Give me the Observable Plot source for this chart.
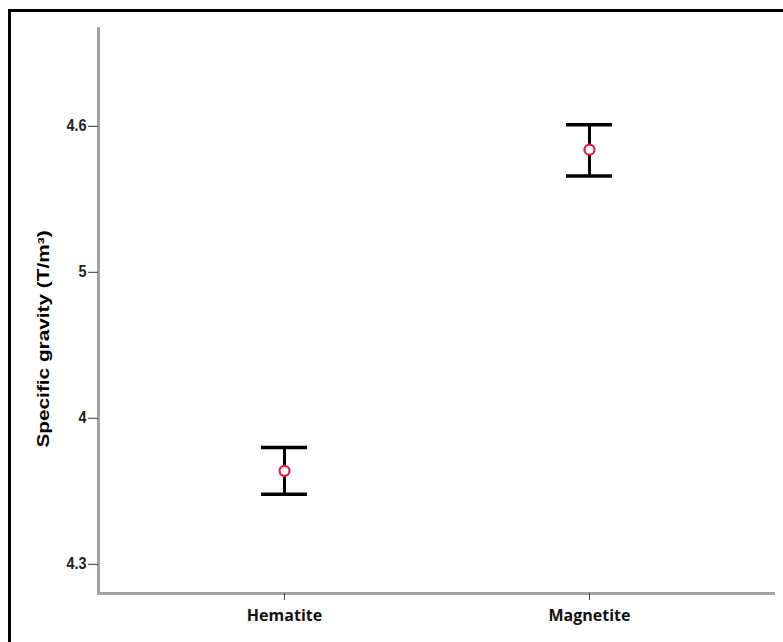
<!DOCTYPE html>
<html>
<head>
<meta charset="utf-8">
<script src="https://cdn.jsdelivr.net/npm/d3@7"></script>
<script src="https://cdn.jsdelivr.net/npm/@observablehq/plot@0.6"></script>
<style>
  html, body { margin: 0; padding: 0; background: #fff; overflow: hidden; }
  #wrap { position: relative; width: 783px; height: 642px; }
  #border { position: absolute; left: 8px; top: 9px; width: 800px; height: 700px;
            border: 3.5px solid #000; box-sizing: border-box; pointer-events: none; }
  #chart { position: absolute; left: 0; top: 0; }
</style>
</head>
<body>
<div id="wrap"><div id="chart"></div><div id="border"></div></div>
<script>
// Categories and values (in axis units; tick positions are labelled below)
const categories = ["Hematite", "Magnetite"];
const means = [0.64, 2.84];
const lower = [0.48, 2.66];
const upper = [0.80, 3.01];
const tickPositions = [0, 1, 2, 3];
const tickLabels = ["4.3", "4", "5", "4.6"];
const yLabel = "Specific gravity (T/m³)";

const data = categories.map((c, i) => ({cat: c, mean: means[i], lo: lower[i], hi: upper[i]}));

const chart = Plot.plot({
  width: 783,
  height: 642,
  marginLeft: 98,
  marginRight: 8,
  marginTop: 28,
  marginBottom: 49,
  style: {fontFamily: "'Liberation Sans', Arial, sans-serif", background: "transparent"},
  x: {type: "band", domain: categories, paddingInner: 0.849, paddingOuter: 0.534, align: 0.5},
  y: {domain: [-0.2, 3.67]},
  marks: [
    Plot.frame({anchor: "left", stroke: "#a3a3a3", strokeWidth: 3}),
    Plot.ruleY([-0.2], {stroke: "#a3a3a3", strokeWidth: 3}),
    Plot.axisY({
      ticks: tickPositions,
      tickFormat: (d) => tickLabels[d],
      tickSize: 10,
      tickPadding: 2,
      stroke: "#333",
      fill: "#222",
      fontSize: 16,
      fontWeight: "bold",
      fontFamily: "'Liberation Sans', Arial, sans-serif",
      className: "ytick",
      label: null
    }),
    Plot.axisX({
      tickSize: 7,
      tickPadding: 9,
      stroke: "#444",
      fill: "#111",
      fontSize: 16,
      fontWeight: "bold",
      fontFamily: "'Open Sans', sans-serif",
      label: null
    }),
    Plot.text([yLabel], {
      frameAnchor: "left",
      textAnchor: "middle",
      dx: -55,
      dy: 28,
      rotate: -90,
      fontSize: 16,
      fontWeight: "bold",
      fill: "#000",
      fontFamily: "'Liberation Sans', Arial, sans-serif",
      className: "ylab"
    }),
    Plot.ruleX(data, {x: "cat", y1: "lo", y2: "hi", stroke: "#000", strokeWidth: 3}),
    Plot.tickY(data, {x: "cat", y: "lo", stroke: "#000", strokeWidth: 3.5}),
    Plot.tickY(data, {x: "cat", y: "hi", stroke: "#000", strokeWidth: 3.5}),
    Plot.dot(data, {x: "cat", y: "mean", r: 5, fill: "#fff", stroke: "#e8194b", strokeWidth: 2.2})
  ]
});
// the reference glyphs are stretched vertically: mimic with a horizontal squeeze / lengthwise stretch
d3.select(chart).selectAll("g.ylab text").attr("transform", function () {
  return (this.getAttribute("transform") || "") + " scale(1.3,1)";
});
d3.select(chart).selectAll("g.ytick text").attr("transform", function () {
  return (this.getAttribute("transform") || "") + " scale(0.9,1)";
});
document.getElementById("chart").appendChild(chart);
</script>
</body>
</html>
